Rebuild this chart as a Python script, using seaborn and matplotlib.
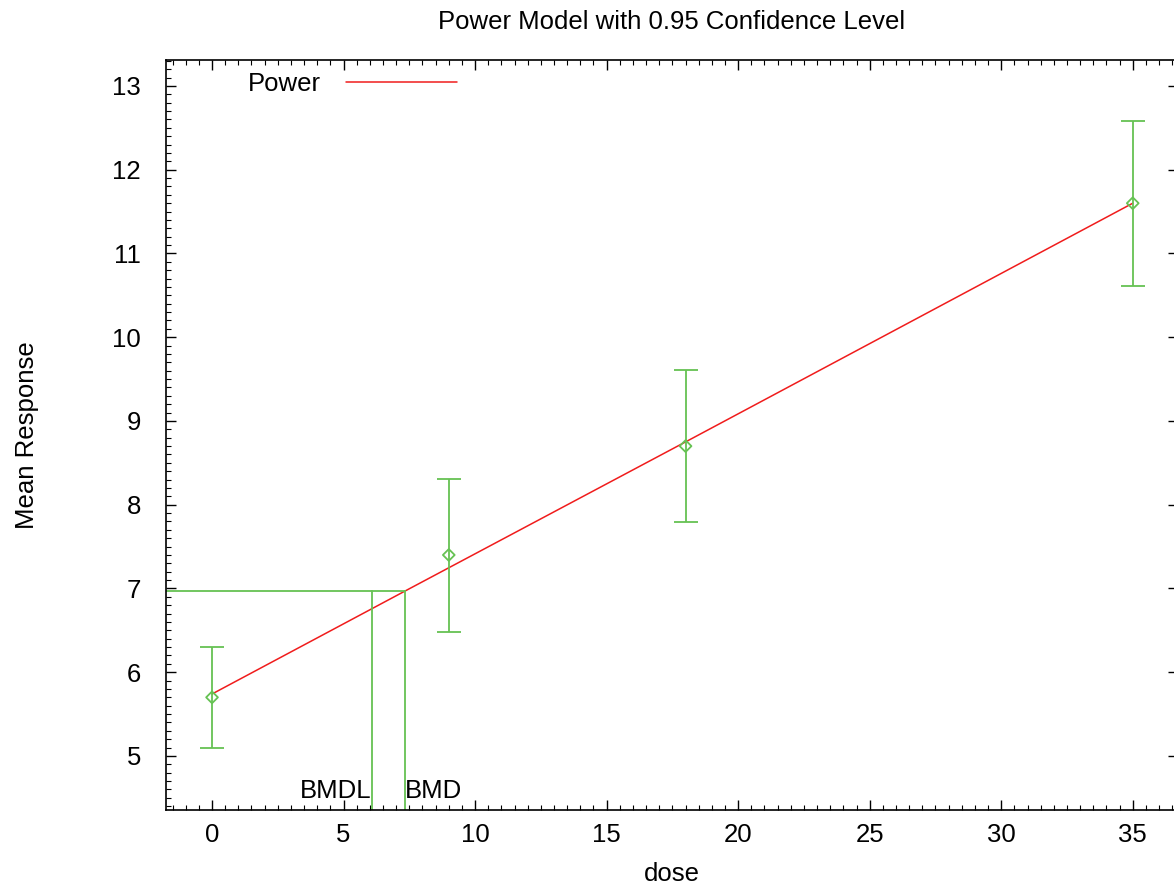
import numpy as np
import pandas as pd
import matplotlib
matplotlib.use("Agg")
import matplotlib.pyplot as plt
import seaborn as sns
from matplotlib.ticker import MultipleLocator

# ---- data ----
dose = [0, 9, 18, 35]
mean_resp = [5.70, 7.40, 8.70, 11.60]
lower_ci = [5.10, 6.48, 7.79, 10.61]
upper_ci = [6.30, 8.31, 9.61, 12.58]

fit_dose = [0.0, 7.34, 18.0, 35.0]
fit_resp = [5.74, 6.97, 8.75, 11.60]

bmdl = 6.08
bmd = 7.34
bmr_level = 6.97

x_ticks = [0, 5, 10, 15, 20, 25, 30, 35]
y_ticks = [5, 6, 7, 8, 9, 10, 11, 12, 13]

title = "Power Model with 0.95 Confidence Level"
xlabel = "dose"
ylabel = "Mean Response"

GREEN = "#66c253"
RED = "#f01c1c"
FS = 18.5

sns.set_style("ticks")
plt.rcParams["font.family"] = ["Liberation Sans", "DejaVu Sans"]
plt.rcParams["text.color"] = "black"
plt.rcParams["axes.labelcolor"] = "black"
plt.rcParams["xtick.color"] = "black"
plt.rcParams["ytick.color"] = "black"

fig = plt.figure(figsize=(11.74, 8.86), dpi=100)
ax = fig.add_axes([166 / 1174, 1 - 810 / 886, (1178 - 166) / 1174, (810 - 60) / 886])

xlim = (-1.75, 36.72)
ylim = (4.355, 13.31)

# fitted model line
fit_df = pd.DataFrame({"dose": fit_dose, "resp": fit_resp})
sns.lineplot(data=fit_df, x="dose", y="resp", ax=ax, color=RED, lw=1.1,
             label="Power", legend=False)

# error bars
d = np.array(dose, dtype=float)
m = np.array(mean_resp)
lo = np.array(lower_ci)
hi = np.array(upper_ci)
ax.errorbar(d, m, yerr=[m - lo, hi - m], fmt="none", ecolor=GREEN,
            elinewidth=1.3, capsize=8.6, capthick=1.3, zorder=3)

# means
pts = pd.DataFrame({"dose": dose, "mean": mean_resp})
sns.scatterplot(data=pts, x="dose", y="mean", ax=ax, marker="D", s=36,
                facecolor="none", edgecolor=GREEN, linewidth=1.3, zorder=4)

# BMD / BMDL lines
ax.plot([xlim[0], bmd], [bmr_level, bmr_level], color=GREEN, lw=1.3)
ax.plot([bmdl, bmdl], [ylim[0], bmr_level], color=GREEN, lw=1.3)
ax.plot([bmd, bmd], [ylim[0], bmr_level], color=GREEN, lw=1.3)
ax.text(bmdl, 4.50, "BMDL", ha="right", va="baseline", fontsize=FS)
ax.text(bmd, 4.50, "BMD", ha="left", va="baseline", fontsize=FS)

ax.set_xlim(*xlim)
ax.set_ylim(*ylim)
ax.set_xticks(x_ticks)
ax.set_yticks(y_ticks)
ax.xaxis.set_minor_locator(MultipleLocator(0.5))
ax.yaxis.set_minor_locator(MultipleLocator(0.1))
ax.tick_params(which="both", direction="in", top=True, right=True, color="black")
ax.tick_params(which="major", length=7, width=1.0)
ax.tick_params(which="minor", length=3.5, width=0.8)
ax.tick_params(axis="y", which="minor", right=False)
ax.tick_params(axis="y", which="major", pad=18, labelsize=FS)
ax.tick_params(axis="x", which="major", pad=9, labelsize=FS)
for s in ax.spines.values():
    s.set_linewidth(1.2)
    s.set_color("black")

ax.set_title(title, fontsize=FS, pad=22)
ax.set_xlabel(xlabel, fontsize=FS, labelpad=11)
ax.set_ylabel(ylabel, fontsize=FS, labelpad=53)

ax.legend(loc="upper left", bbox_to_anchor=(0.063, 1.008), frameon=False,
          markerfirst=False, handlelength=4.3, handletextpad=1.0,
          fontsize=FS, borderaxespad=0.3)

fig.savefig("out.png", dpi=100)
